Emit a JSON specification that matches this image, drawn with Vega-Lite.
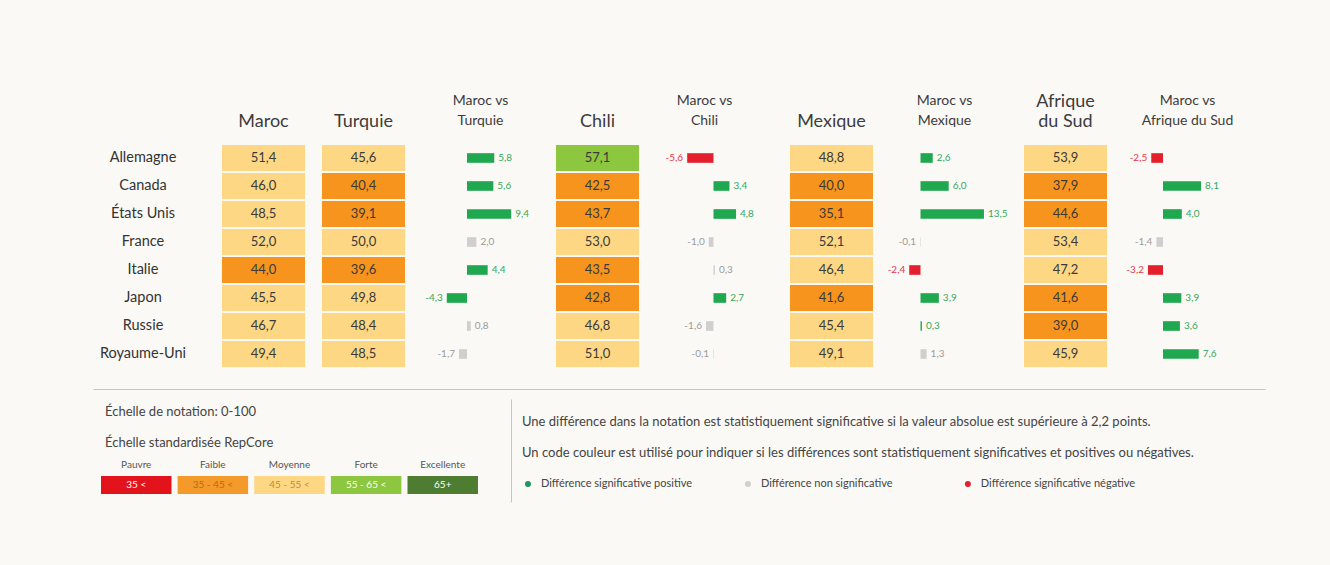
{
  "$schema": "https://vega.github.io/schema/vega-lite/v6.json",
  "background": "#FBF9F6",
  "padding": {"left": 93, "top": 93, "right": 70, "bottom": 70},
  "autosize": {"type": "pad"},
  "config": {
    "font": "Lato",
    "view": {"stroke": null},
    "locale": {"number": {"decimal": ",", "thousands": " ", "grouping": [3], "currency": ["", " €"], "minus": "-"}},
    "title": {"font": "Lato", "fontSize": 18, "fontWeight": "normal", "color": "#3c3c3c", "anchor": "middle", "frame": "group", "baseline": "bottom", "offset": 13, "lineHeight": 20}
  },
  "datasets": {
    "scores": [
      {"pays": "Allemagne", "comp": "Maroc", "score": 51.4}, {"pays": "Canada", "comp": "Maroc", "score": 46.0}, {"pays": "États Unis", "comp": "Maroc", "score": 48.5}, {"pays": "France", "comp": "Maroc", "score": 52.0}, {"pays": "Italie", "comp": "Maroc", "score": 44.0}, {"pays": "Japon", "comp": "Maroc", "score": 45.5}, {"pays": "Russie", "comp": "Maroc", "score": 46.7}, {"pays": "Royaume-Uni", "comp": "Maroc", "score": 49.4},
      {"pays": "Allemagne", "comp": "Turquie", "score": 45.6}, {"pays": "Canada", "comp": "Turquie", "score": 40.4}, {"pays": "États Unis", "comp": "Turquie", "score": 39.1}, {"pays": "France", "comp": "Turquie", "score": 50.0}, {"pays": "Italie", "comp": "Turquie", "score": 39.6}, {"pays": "Japon", "comp": "Turquie", "score": 49.8}, {"pays": "Russie", "comp": "Turquie", "score": 48.4}, {"pays": "Royaume-Uni", "comp": "Turquie", "score": 48.5},
      {"pays": "Allemagne", "comp": "Chili", "score": 57.1}, {"pays": "Canada", "comp": "Chili", "score": 42.5}, {"pays": "États Unis", "comp": "Chili", "score": 43.7}, {"pays": "France", "comp": "Chili", "score": 53.0}, {"pays": "Italie", "comp": "Chili", "score": 43.5}, {"pays": "Japon", "comp": "Chili", "score": 42.8}, {"pays": "Russie", "comp": "Chili", "score": 46.8}, {"pays": "Royaume-Uni", "comp": "Chili", "score": 51.0},
      {"pays": "Allemagne", "comp": "Mexique", "score": 48.8}, {"pays": "Canada", "comp": "Mexique", "score": 40.0}, {"pays": "États Unis", "comp": "Mexique", "score": 35.1}, {"pays": "France", "comp": "Mexique", "score": 52.1}, {"pays": "Italie", "comp": "Mexique", "score": 46.4}, {"pays": "Japon", "comp": "Mexique", "score": 41.6}, {"pays": "Russie", "comp": "Mexique", "score": 45.4}, {"pays": "Royaume-Uni", "comp": "Mexique", "score": 49.1},
      {"pays": "Allemagne", "comp": "Afrique du Sud", "score": 53.9}, {"pays": "Canada", "comp": "Afrique du Sud", "score": 37.9}, {"pays": "États Unis", "comp": "Afrique du Sud", "score": 44.6}, {"pays": "France", "comp": "Afrique du Sud", "score": 53.4}, {"pays": "Italie", "comp": "Afrique du Sud", "score": 47.2}, {"pays": "Japon", "comp": "Afrique du Sud", "score": 41.6}, {"pays": "Russie", "comp": "Afrique du Sud", "score": 39.0}, {"pays": "Royaume-Uni", "comp": "Afrique du Sud", "score": 45.9}
    ],
    "diffs": [
      {"pays": "Allemagne", "comp": "Turquie", "diff": 5.8, "sig": "pos"}, {"pays": "Canada", "comp": "Turquie", "diff": 5.6, "sig": "pos"}, {"pays": "États Unis", "comp": "Turquie", "diff": 9.4, "sig": "pos"}, {"pays": "France", "comp": "Turquie", "diff": 2.0, "sig": "ns"}, {"pays": "Italie", "comp": "Turquie", "diff": 4.4, "sig": "pos"}, {"pays": "Japon", "comp": "Turquie", "diff": -4.3, "sig": "pos"}, {"pays": "Russie", "comp": "Turquie", "diff": 0.8, "sig": "ns"}, {"pays": "Royaume-Uni", "comp": "Turquie", "diff": -1.7, "sig": "ns"},
      {"pays": "Allemagne", "comp": "Chili", "diff": -5.6, "sig": "neg"}, {"pays": "Canada", "comp": "Chili", "diff": 3.4, "sig": "pos"}, {"pays": "États Unis", "comp": "Chili", "diff": 4.8, "sig": "pos"}, {"pays": "France", "comp": "Chili", "diff": -1.0, "sig": "ns"}, {"pays": "Italie", "comp": "Chili", "diff": 0.3, "sig": "ns"}, {"pays": "Japon", "comp": "Chili", "diff": 2.7, "sig": "pos"}, {"pays": "Russie", "comp": "Chili", "diff": -1.6, "sig": "ns"}, {"pays": "Royaume-Uni", "comp": "Chili", "diff": -0.1, "sig": "ns"},
      {"pays": "Allemagne", "comp": "Mexique", "diff": 2.6, "sig": "pos"}, {"pays": "Canada", "comp": "Mexique", "diff": 6.0, "sig": "pos"}, {"pays": "États Unis", "comp": "Mexique", "diff": 13.5, "sig": "pos"}, {"pays": "France", "comp": "Mexique", "diff": -0.1, "sig": "ns"}, {"pays": "Italie", "comp": "Mexique", "diff": -2.4, "sig": "neg"}, {"pays": "Japon", "comp": "Mexique", "diff": 3.9, "sig": "pos"}, {"pays": "Russie", "comp": "Mexique", "diff": 0.3, "sig": "pos"}, {"pays": "Royaume-Uni", "comp": "Mexique", "diff": 1.3, "sig": "ns"},
      {"pays": "Allemagne", "comp": "Afrique du Sud", "diff": -2.5, "sig": "neg"}, {"pays": "Canada", "comp": "Afrique du Sud", "diff": 8.1, "sig": "pos"}, {"pays": "États Unis", "comp": "Afrique du Sud", "diff": 4.0, "sig": "pos"}, {"pays": "France", "comp": "Afrique du Sud", "diff": -1.4, "sig": "ns"}, {"pays": "Italie", "comp": "Afrique du Sud", "diff": -3.2, "sig": "neg"}, {"pays": "Japon", "comp": "Afrique du Sud", "diff": 3.9, "sig": "pos"}, {"pays": "Russie", "comp": "Afrique du Sud", "diff": 3.6, "sig": "pos"}, {"pays": "Royaume-Uni", "comp": "Afrique du Sud", "diff": 7.6, "sig": "pos"}
    ],
    "echelle": [
      {"cat": "Pauvre", "plage": "35 <"}, {"cat": "Faible", "plage": "35 - 45 <"}, {"cat": "Moyenne", "plage": "45 - 55 <"}, {"cat": "Forte", "plage": "55 - 65 <"}, {"cat": "Excellente", "plage": "65+"}
    ],
    "echelleTitres": [
      {"kind": "t1", "text": "Échelle de notation: 0-100"},
      {"kind": "t2", "text": "Échelle standardisée RepCore"}
    ],
    "notes": [
      {"kind": "n1", "text": "Une différence dans la notation est statistiquement significative si la valeur absolue est supérieure à 2,2 points."},
      {"kind": "n2", "text": "Un code couleur est utilisé pour indiquer si les différences sont statistiquement significatives et positives ou négatives."}
    ],
    "legende": [
      {"kind": "leg", "sig": "pos", "label": "Différence significative positive"},
      {"kind": "leg", "sig": "ns", "label": "Différence non significative"},
      {"kind": "leg", "sig": "neg", "label": "Différence significative négative"}
    ]
  },
  "spacing": 9,
  "resolve": {"scale": {"color": "independent"}},
  "vconcat": [
    {
      "bounds": "flush",
      "spacing": 17,
      "resolve": {"scale": {"color": "independent"}},
      "hconcat": [
        {
          "width": 112, "height": 236,
          "data": {"name": "scores"},
          "transform": [{"filter": {"field": "comp", "equal": "Maroc"}}],
          "mark": {"type": "text", "fontSize": 14.5, "color": "#333333", "dx": -6},
          "encoding": {
            "y": {"field": "pays", "type": "nominal", "sort": null, "axis": null, "scale": {"type": "band", "domain": ["Allemagne", "Canada", "États Unis", "France", "Italie", "Japon", "Russie", "Royaume-Uni"], "paddingInner": 0.07, "paddingOuter": 0.249, "align": 0.07}},
            "text": {"field": "pays"}
          }
        },
        {
          "width": 83, "height": 236,
          "title": {"text": "Maroc"},
          "data": {"name": "scores"},
          "transform": [{"filter": {"field": "comp", "equal": "Maroc"}}],
          "encoding": {
            "y": {"field": "pays", "type": "nominal", "sort": null, "axis": null, "scale": {"type": "band", "domain": ["Allemagne", "Canada", "États Unis", "France", "Italie", "Japon", "Russie", "Royaume-Uni"], "paddingInner": 0.07, "paddingOuter": 0.249, "align": 0.07}}
          },
          "layer": [
            {"mark": {"type": "rect"}, "encoding": {"color": {"field": "score", "type": "quantitative", "scale": {"type": "threshold", "domain": [35, 45, 55, 65], "range": ["#E3131B", "#F7941D", "#FDD783", "#8DC63F", "#4E7D31"]}, "legend": null}}},
            {"mark": {"type": "text", "fontSize": 13, "color": "#3a3a3a"}, "encoding": {"text": {"field": "score", "type": "quantitative", "format": ".1f"}}}
          ]
        },
        {
          "width": 83, "height": 236,
          "title": {"text": "Turquie"},
          "data": {"name": "scores"},
          "transform": [{"filter": {"field": "comp", "equal": "Turquie"}}],
          "encoding": {
            "y": {"field": "pays", "type": "nominal", "sort": null, "axis": null, "scale": {"type": "band", "domain": ["Allemagne", "Canada", "États Unis", "France", "Italie", "Japon", "Russie", "Royaume-Uni"], "paddingInner": 0.07, "paddingOuter": 0.249, "align": 0.07}}
          },
          "layer": [
            {"mark": {"type": "rect"}, "encoding": {"color": {"field": "score", "type": "quantitative", "scale": {"type": "threshold", "domain": [35, 45, 55, 65], "range": ["#E3131B", "#F7941D", "#FDD783", "#8DC63F", "#4E7D31"]}, "legend": null}}},
            {"mark": {"type": "text", "fontSize": 13, "color": "#3a3a3a"}, "encoding": {"text": {"field": "score", "type": "quantitative", "format": ".1f"}}}
          ]
        },
        {
          "width": 117, "height": 236,
          "title": {"text": ["Maroc vs", "Turquie"], "fontSize": 14, "lineHeight": 20, "offset": 16},
          "data": {"name": "diffs"},
          "transform": [{"filter": {"field": "comp", "equal": "Turquie"}}],
          "encoding": {
            "y": {"field": "pays", "type": "nominal", "sort": null, "axis": null, "scale": {"type": "band", "domain": ["Allemagne", "Canada", "États Unis", "France", "Italie", "Japon", "Russie", "Royaume-Uni"], "paddingInner": 0.07, "paddingOuter": 0.249, "align": 0.07}},
            "x": {"field": "diff", "type": "quantitative", "axis": null, "scale": {"domain": [-9.57, 15.32], "nice": false, "zero": false}}
          },
          "layer": [
            {"mark": {"type": "bar", "height": {"band": 0.37}}, "encoding": {"color": {"field": "sig", "type": "nominal", "scale": {"domain": ["pos", "ns", "neg"], "range": ["#1FA84F", "#CFCFCF", "#E4202F"]}, "legend": null}}},
            {"transform": [{"filter": "datum.diff >= 0"}], "mark": {"type": "text", "align": "left", "dx": 4, "fontSize": 10}, "encoding": {"text": {"field": "diff", "type": "quantitative", "format": ".1f"}, "color": {"condition": [{"test": "datum.sig === 'pos'", "value": "#35A85C"}, {"test": "datum.sig === 'neg'", "value": "#E5384A"}], "value": "#9B9B9B"}}},
            {"transform": [{"filter": "datum.diff < 0"}], "mark": {"type": "text", "align": "right", "dx": -4, "fontSize": 10}, "encoding": {"text": {"field": "diff", "type": "quantitative", "format": ".1f"}, "color": {"condition": [{"test": "datum.sig === 'pos'", "value": "#35A85C"}, {"test": "datum.sig === 'neg'", "value": "#E5384A"}], "value": "#9B9B9B"}}}
          ]
        },
        {
          "width": 83, "height": 236,
          "title": {"text": "Chili"},
          "data": {"name": "scores"},
          "transform": [{"filter": {"field": "comp", "equal": "Chili"}}],
          "encoding": {
            "y": {"field": "pays", "type": "nominal", "sort": null, "axis": null, "scale": {"type": "band", "domain": ["Allemagne", "Canada", "États Unis", "France", "Italie", "Japon", "Russie", "Royaume-Uni"], "paddingInner": 0.07, "paddingOuter": 0.249, "align": 0.07}}
          },
          "layer": [
            {"mark": {"type": "rect"}, "encoding": {"color": {"field": "score", "type": "quantitative", "scale": {"type": "threshold", "domain": [35, 45, 55, 65], "range": ["#E3131B", "#F7941D", "#FDD783", "#8DC63F", "#4E7D31"]}, "legend": null}}},
            {"mark": {"type": "text", "fontSize": 13, "color": "#3a3a3a"}, "encoding": {"text": {"field": "score", "type": "quantitative", "format": ".1f"}}}
          ]
        },
        {
          "width": 117, "height": 236,
          "title": {"text": ["Maroc vs", "Chili"], "fontSize": 14, "lineHeight": 20, "offset": 16, "dx": -10},
          "data": {"name": "diffs"},
          "transform": [{"filter": {"field": "comp", "equal": "Chili"}}],
          "encoding": {
            "y": {"field": "pays", "type": "nominal", "sort": null, "axis": null, "scale": {"type": "band", "domain": ["Allemagne", "Canada", "États Unis", "France", "Italie", "Japon", "Russie", "Royaume-Uni"], "paddingInner": 0.07, "paddingOuter": 0.249, "align": 0.07}},
            "x": {"field": "diff", "type": "quantitative", "axis": null, "scale": {"domain": [-12.23, 12.66], "nice": false, "zero": false}}
          },
          "layer": [
            {"mark": {"type": "bar", "height": {"band": 0.37}}, "encoding": {"color": {"field": "sig", "type": "nominal", "scale": {"domain": ["pos", "ns", "neg"], "range": ["#1FA84F", "#CFCFCF", "#E4202F"]}, "legend": null}}},
            {"transform": [{"filter": "datum.diff >= 0"}], "mark": {"type": "text", "align": "left", "dx": 4, "fontSize": 10}, "encoding": {"text": {"field": "diff", "type": "quantitative", "format": ".1f"}, "color": {"condition": [{"test": "datum.sig === 'pos'", "value": "#35A85C"}, {"test": "datum.sig === 'neg'", "value": "#E5384A"}], "value": "#9B9B9B"}}},
            {"transform": [{"filter": "datum.diff < 0"}], "mark": {"type": "text", "align": "right", "dx": -4, "fontSize": 10}, "encoding": {"text": {"field": "diff", "type": "quantitative", "format": ".1f"}, "color": {"condition": [{"test": "datum.sig === 'pos'", "value": "#35A85C"}, {"test": "datum.sig === 'neg'", "value": "#E5384A"}], "value": "#9B9B9B"}}}
          ]
        },
        {
          "width": 83, "height": 236,
          "title": {"text": "Mexique"},
          "data": {"name": "scores"},
          "transform": [{"filter": {"field": "comp", "equal": "Mexique"}}],
          "encoding": {
            "y": {"field": "pays", "type": "nominal", "sort": null, "axis": null, "scale": {"type": "band", "domain": ["Allemagne", "Canada", "États Unis", "France", "Italie", "Japon", "Russie", "Royaume-Uni"], "paddingInner": 0.07, "paddingOuter": 0.249, "align": 0.07}}
          },
          "layer": [
            {"mark": {"type": "rect"}, "encoding": {"color": {"field": "score", "type": "quantitative", "scale": {"type": "threshold", "domain": [35, 45, 55, 65], "range": ["#E3131B", "#F7941D", "#FDD783", "#8DC63F", "#4E7D31"]}, "legend": null}}},
            {"mark": {"type": "text", "fontSize": 13, "color": "#3a3a3a"}, "encoding": {"text": {"field": "score", "type": "quantitative", "format": ".1f"}}}
          ]
        },
        {
          "width": 117, "height": 236,
          "title": {"text": ["Maroc vs", "Mexique"], "fontSize": 14, "lineHeight": 20, "offset": 16, "dx": -4},
          "data": {"name": "diffs"},
          "transform": [{"filter": {"field": "comp", "equal": "Mexique"}}],
          "encoding": {
            "y": {"field": "pays", "type": "nominal", "sort": null, "axis": null, "scale": {"type": "band", "domain": ["Allemagne", "Canada", "États Unis", "France", "Italie", "Japon", "Russie", "Royaume-Uni"], "paddingInner": 0.07, "paddingOuter": 0.249, "align": 0.07}},
            "x": {"field": "diff", "type": "quantitative", "axis": null, "scale": {"domain": [-6.49, 18.4], "nice": false, "zero": false}}
          },
          "layer": [
            {"mark": {"type": "bar", "height": {"band": 0.37}}, "encoding": {"color": {"field": "sig", "type": "nominal", "scale": {"domain": ["pos", "ns", "neg"], "range": ["#1FA84F", "#CFCFCF", "#E4202F"]}, "legend": null}}},
            {"transform": [{"filter": "datum.diff >= 0"}], "mark": {"type": "text", "align": "left", "dx": 4, "fontSize": 10}, "encoding": {"text": {"field": "diff", "type": "quantitative", "format": ".1f"}, "color": {"condition": [{"test": "datum.sig === 'pos'", "value": "#35A85C"}, {"test": "datum.sig === 'neg'", "value": "#E5384A"}], "value": "#9B9B9B"}}},
            {"transform": [{"filter": "datum.diff < 0"}], "mark": {"type": "text", "align": "right", "dx": -4, "fontSize": 10}, "encoding": {"text": {"field": "diff", "type": "quantitative", "format": ".1f"}, "color": {"condition": [{"test": "datum.sig === 'pos'", "value": "#35A85C"}, {"test": "datum.sig === 'neg'", "value": "#E5384A"}], "value": "#9B9B9B"}}}
          ]
        },
        {
          "width": 83, "height": 236,
          "title": {"text": ["Afrique", "du Sud"]},
          "data": {"name": "scores"},
          "transform": [{"filter": {"field": "comp", "equal": "Afrique du Sud"}}],
          "encoding": {
            "y": {"field": "pays", "type": "nominal", "sort": null, "axis": null, "scale": {"type": "band", "domain": ["Allemagne", "Canada", "États Unis", "France", "Italie", "Japon", "Russie", "Royaume-Uni"], "paddingInner": 0.07, "paddingOuter": 0.249, "align": 0.07}}
          },
          "layer": [
            {"mark": {"type": "rect"}, "encoding": {"color": {"field": "score", "type": "quantitative", "scale": {"type": "threshold", "domain": [35, 45, 55, 65], "range": ["#E3131B", "#F7941D", "#FDD783", "#8DC63F", "#4E7D31"]}, "legend": null}}},
            {"mark": {"type": "text", "fontSize": 13, "color": "#3a3a3a"}, "encoding": {"text": {"field": "score", "type": "quantitative", "format": ".1f"}}}
          ]
        },
        {
          "width": 117, "height": 236,
          "title": {"text": ["Maroc vs", "Afrique du Sud"], "fontSize": 14, "lineHeight": 20, "offset": 16, "dx": 5},
          "data": {"name": "diffs"},
          "transform": [{"filter": {"field": "comp", "equal": "Afrique du Sud"}}],
          "encoding": {
            "y": {"field": "pays", "type": "nominal", "sort": null, "axis": null, "scale": {"type": "band", "domain": ["Allemagne", "Canada", "États Unis", "France", "Italie", "Japon", "Russie", "Royaume-Uni"], "paddingInner": 0.07, "paddingOuter": 0.249, "align": 0.07}},
            "x": {"field": "diff", "type": "quantitative", "axis": null, "scale": {"domain": [-8.3, 16.6], "nice": false, "zero": false}}
          },
          "layer": [
            {"mark": {"type": "bar", "height": {"band": 0.37}}, "encoding": {"color": {"field": "sig", "type": "nominal", "scale": {"domain": ["pos", "ns", "neg"], "range": ["#1FA84F", "#CFCFCF", "#E4202F"]}, "legend": null}}},
            {"transform": [{"filter": "datum.diff >= 0"}], "mark": {"type": "text", "align": "left", "dx": 4, "fontSize": 10}, "encoding": {"text": {"field": "diff", "type": "quantitative", "format": ".1f"}, "color": {"condition": [{"test": "datum.sig === 'pos'", "value": "#35A85C"}, {"test": "datum.sig === 'neg'", "value": "#E5384A"}], "value": "#9B9B9B"}}},
            {"transform": [{"filter": "datum.diff < 0"}], "mark": {"type": "text", "align": "right", "dx": -4, "fontSize": 10}, "encoding": {"text": {"field": "diff", "type": "quantitative", "format": ".1f"}, "color": {"condition": [{"test": "datum.sig === 'pos'", "value": "#35A85C"}, {"test": "datum.sig === 'neg'", "value": "#E5384A"}], "value": "#9B9B9B"}}}
          ]
        }
      ]
    },
    {
      "width": 1172, "height": 1,
      "data": {"values": [{"a": 0}]},
      "mark": {"type": "point", "opacity": 0, "size": 0, "strokeWidth": 0},
      "encoding": {
        "x": {"field": "a", "type": "quantitative", "axis": {"orient": "top", "domain": true, "domainColor": "#c4c4c4", "domainWidth": 1, "ticks": false, "labels": false, "grid": false, "title": null}}
      }
    },
    {
      "bounds": "flush",
      "spacing": 0,
      "resolve": {"scale": {"color": "independent"}},
      "hconcat": [
        {
          "width": 418, "height": 103,
          "resolve": {"scale": {"x": "independent", "y": "independent"}},
          "layer": [
            {
              "data": {"name": "echelle"},
              "mark": {"type": "rect"},
              "encoding": {
                "x": {"field": "cat", "type": "nominal", "sort": null, "axis": null, "scale": {"domain": ["Pauvre", "Faible", "Moyenne", "Forte", "Excellente"], "paddingInner": 0.08, "paddingOuter": 0.2676, "align": 0.195}},
                "y": {"datum": "échelle", "type": "nominal", "axis": null, "scale": {"type": "band", "paddingInner": 0.5765, "paddingOuter": 1, "align": 0.906}},
                "color": {"field": "cat", "type": "nominal", "scale": {"domain": ["Pauvre", "Faible", "Moyenne", "Forte", "Excellente"], "range": ["#E3131B", "#F39A2B", "#FDD783", "#8DC63F", "#4E7D31"]}, "legend": null}
              }
            },
            {
              "data": {"name": "echelle"},
              "mark": {"type": "text", "fontSize": 10, "dy": -20, "color": "#555555"},
              "encoding": {
                "x": {"field": "cat", "type": "nominal", "sort": null, "axis": null, "scale": {"type": "band", "domain": ["Pauvre", "Faible", "Moyenne", "Forte", "Excellente"], "paddingInner": 0.08, "paddingOuter": 0.2676, "align": 0.195}},
                "y": {"datum": "échelle", "type": "nominal", "axis": null, "scale": {"type": "band", "paddingInner": 0.5765, "paddingOuter": 1, "align": 0.906}},
                "text": {"field": "cat"}
              }
            },
            {
              "data": {"name": "echelle"},
              "mark": {"type": "text", "fontSize": 10},
              "encoding": {
                "x": {"field": "cat", "type": "nominal", "sort": null, "axis": null, "scale": {"type": "band", "domain": ["Pauvre", "Faible", "Moyenne", "Forte", "Excellente"], "paddingInner": 0.08, "paddingOuter": 0.2676, "align": 0.195}},
                "y": {"datum": "échelle", "type": "nominal", "axis": null, "scale": {"type": "band", "paddingInner": 0.5765, "paddingOuter": 1, "align": 0.906}},
                "text": {"field": "plage"},
                "color": {"condition": [{"test": "datum.cat === 'Faible'", "value": "#B86A12"}, {"test": "datum.cat === 'Moyenne'", "value": "#C98A22"}], "value": "#FFFFFF"}
              }
            },
            {
              "data": {"name": "echelleTitres"},
              "mark": {"type": "text", "align": "left", "dx": 12, "fontSize": 13, "color": "#444444"},
              "encoding": {
                "x": {"datum": 0, "type": "quantitative", "axis": null, "scale": {"domain": [0, 1]}},
                "y": {"field": "kind", "type": "nominal", "axis": null, "scale": {"type": "point", "domain": ["t1", "t2", "pad"], "padding": 0.661, "align": 0.317}},
                "text": {"field": "text"}
              }
            }
          ]
        },
        {
          "width": 754, "height": 103,
          "resolve": {"scale": {"x": "independent"}},
          "layer": [
            {
              "data": {"name": "notes"},
              "mark": {"type": "text", "align": "left", "dx": 11, "fontSize": 13, "color": "#444444"},
              "encoding": {
                "x": {"datum": 0, "type": "quantitative", "axis": null, "scale": {"domain": [0, 1]}},
                "y": {"field": "kind", "type": "nominal", "axis": {"domain": true, "domainColor": "#c4c4c4", "ticks": false, "labels": false, "grid": false, "title": null}, "scale": {"type": "point", "domain": ["n1", "n2", "leg"], "padding": 0.66, "align": 0.56}},
                "text": {"field": "text"}
              }
            },
            {
              "data": {"name": "legende"},
              "mark": {"type": "circle", "size": 36, "opacity": 1},
              "encoding": {
                "x": {"field": "sig", "type": "nominal", "axis": null, "scale": {"type": "point", "domain": ["pos", "ns", "neg"], "padding": 0.714, "align": 0.054}},
                "y": {"field": "kind", "type": "nominal", "scale": {"type": "point", "domain": ["n1", "n2", "leg"], "padding": 0.66, "align": 0.56}},
                "color": {"field": "sig", "type": "nominal", "scale": {"domain": ["pos", "ns", "neg"], "range": ["#22955A", "#CFCFCF", "#E4202F"]}, "legend": null}
              }
            },
            {
              "data": {"name": "legende"},
              "mark": {"type": "text", "align": "left", "dx": 13, "fontSize": 11, "color": "#444444"},
              "encoding": {
                "x": {"field": "sig", "type": "nominal", "axis": null, "scale": {"type": "point", "domain": ["pos", "ns", "neg"], "padding": 0.714, "align": 0.054}},
                "y": {"field": "kind", "type": "nominal", "scale": {"type": "point", "domain": ["n1", "n2", "leg"], "padding": 0.66, "align": 0.56}},
                "text": {"field": "label"}
              }
            }
          ]
        }
      ]
    }
  ]
}
